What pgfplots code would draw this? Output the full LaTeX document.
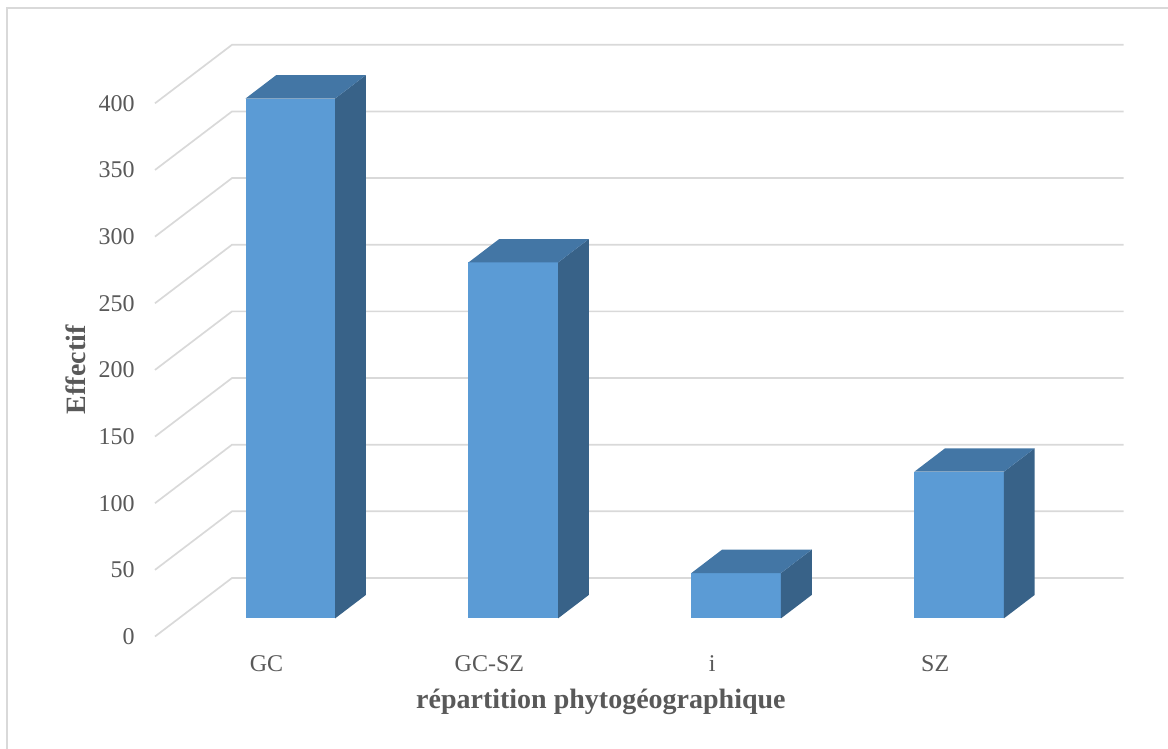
\documentclass[border=0pt]{standalone}
\usepackage{pgfplots}
\pgfplotsset{compat=1.18}
\usepackage{fontspec}
\setmainfont{Liberation Serif}

\definecolor{barfront}{HTML}{5B9BD5}
\definecolor{barside}{HTML}{386288}
\definecolor{bartop}{HTML}{4376A5}
\definecolor{gridcol}{HTML}{D9D9D9}
\definecolor{textcol}{HTML}{595959}

% Oblique 3-D bar: #1 = category position, #2 = value.
% Front face sits 0.31 of the floor depth back, rear face 0.71.
\newcommand{\drawbar}[2]{%
  \pgfmathsetmacro{\xa}{#1-0.201+0.1071}%
  \pgfmathsetmacro{\xb}{#1+0.201+0.1071}%
  \pgfmathsetmacro{\xc}{\xb+0.1381}%
  \pgfmathsetmacro{\xd}{\xa+0.1381}%
  \pgfmathsetmacro{\ya}{13.6}%
  \pgfmathsetmacro{\yb}{#2+13.6}%
  \pgfmathsetmacro{\yc}{31.2}%
  \pgfmathsetmacro{\yd}{#2+31.2}%
  \addplot[fill=barfront, draw=none] coordinates {(\xa,\ya) (\xb,\ya) (\xb,\yb) (\xa,\yb)} -- cycle;
  \addplot[fill=barside, draw=none] coordinates {(\xb,\ya) (\xc,\yc) (\xc,\yd) (\xb,\yb)} -- cycle;
  \addplot[fill=bartop, draw=none] coordinates {(\xa,\yb) (\xb,\yb) (\xc,\yd) (\xd,\yd)} -- cycle;
}

\begin{document}
\begin{tikzpicture}
\begin{axis}[
  at={(0,0)}, anchor=south west,
  scale only axis,
  width=484.35pt, height=295.85pt,
  xmin=-0.5, xmax=3.8454,
  ymin=0, ymax=443.9,
  clip=false,
  axis line style={draw=none},
  major tick length=0pt,
  xtick={0,1,2,3},
  xticklabels={GC,GC-SZ,i,SZ},
  ytick={0,50,...,400},
  /pgf/number format/assume math mode=true,
  tick label style={font=\fontsize{12}{14}\selectfont, text=textcol},
  xticklabel style={anchor=base, inner sep=0pt, yshift=-17.6pt},
  yticklabel style={anchor=east, inner sep=0pt, xshift=-10pt},
  xlabel={répartition phytogéographique},
  ylabel={Effectif},
  label style={font=\fontsize{14}{16}\selectfont\bfseries, text=textcol},
  xlabel style={at={(axis description cs:0.4603,0)}, anchor=base, inner sep=0pt, yshift=-35.9pt},
  ylabel style={at={(axis description cs:-0.0816,0.4506)}, anchor=center},
]
% back wall gridlines with their oblique floor/side strokes
\addplot[gridcol, line width=0.85pt] coordinates {(-0.5,0)   (-0.1546,43.9)  (3.8454,43.9)};
\addplot[gridcol, line width=0.85pt] coordinates {(-0.5,50)  (-0.1546,93.9)  (3.8454,93.9)};
\addplot[gridcol, line width=0.85pt] coordinates {(-0.5,100) (-0.1546,143.9) (3.8454,143.9)};
\addplot[gridcol, line width=0.85pt] coordinates {(-0.5,150) (-0.1546,193.9) (3.8454,193.9)};
\addplot[gridcol, line width=0.85pt] coordinates {(-0.5,200) (-0.1546,243.9) (3.8454,243.9)};
\addplot[gridcol, line width=0.85pt] coordinates {(-0.5,250) (-0.1546,293.9) (3.8454,293.9)};
\addplot[gridcol, line width=0.85pt] coordinates {(-0.5,300) (-0.1546,343.9) (3.8454,343.9)};
\addplot[gridcol, line width=0.85pt] coordinates {(-0.5,350) (-0.1546,393.9) (3.8454,393.9)};
\addplot[gridcol, line width=0.85pt] coordinates {(-0.5,400) (-0.1546,443.9) (3.8454,443.9)};
% bars: GC, GC-SZ, i, SZ
\drawbar{0}{390}
\drawbar{1}{267}
\drawbar{2}{34}
\drawbar{3}{110}
\end{axis}
% chart area frame
\draw[gridcol, line width=1pt] (-73.75pt,-70pt) -- (-73.75pt,314pt) -- (520pt,314pt);
\pgfresetboundingbox
\path[use as bounding box] (-77.5pt,-56.25pt) rectangle (506.5pt,318.25pt);
\end{tikzpicture}
\end{document}
